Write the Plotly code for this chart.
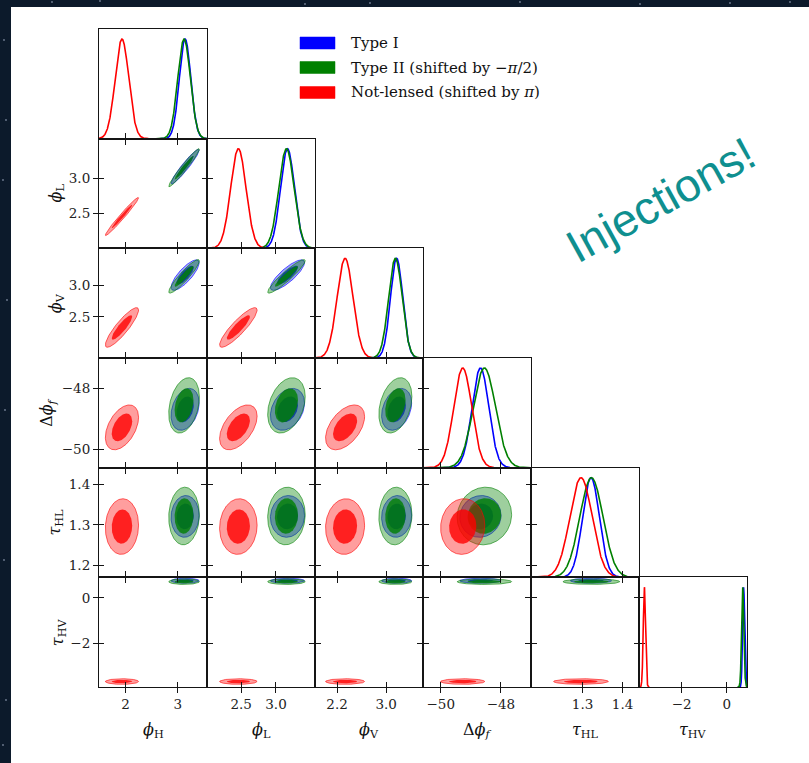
import numpy as np
import plotly.graph_objects as go

W, H = 809, 763

# ---- parameters of the corner plot -------------------------------------
param_titles = ["<i>ϕ</i><sub>H</sub>", "<i>ϕ</i><sub>L</sub>", "<i>ϕ</i><sub>V</sub>",
                "Δ<i>ϕ</i><sub><i>f</i></sub>", "<i>τ</i><sub>HL</sub>", "<i>τ</i><sub>HV</sub>"]
ranges = [[1.49, 3.56], [2.01, 3.56], [1.84, 3.60], [-50.59, -47.0], [1.171, 1.441], [-3.90, 0.90]]
x_tickvals = [[2, 3], [2.5, 3.0], [2.2, 3.0], [-50, -48], [1.3, 1.4], [-2, 0]]
x_ticktext = [["2", "3"], ["2.5", "3.0"], ["2.2", "3.0"], ["−50", "−48"], ["1.3", "1.4"], ["−2", "0"]]
y_tickvals = [[], [2.5, 3.0], [2.5, 3.0], [-50, -48], [1.2, 1.3, 1.4], [-2, 0]]
y_ticktext = [[], ["2.5", "3.0"], ["2.5", "3.0"], ["−50", "−48"], ["1.2", "1.3", "1.4"], ["−2", "0"]]

# ---- posterior summaries: means, widths, pairwise correlations ---------
type1_mean = [3.14, 3.165, 3.17, -48.68, 1.321, 0.75]
type1_std = [0.11, 0.10, 0.10, 0.28, 0.021, 0.045]
type1_corr = [[], [0.95], [0.80, 0.82], [0.30, 0.30, 0.30],
              [0.05, 0.05, 0.05, 0.05], [0.0, 0.0, 0.0, 0.0, 0.0]]

type2_mean = [3.12, 3.15, 3.15, -48.55, 1.322, 0.71]
type2_std = [0.12, 0.11, 0.11, 0.37, 0.029, 0.05]
type2_corr = [[], [0.97], [0.92, 0.93], [0.30, 0.32, 0.32],
              [0.05, 0.05, 0.05, 0.05], [0.0, 0.0, 0.0, 0.0, 0.0]]

nolens_mean = [1.93, 2.46, 2.33, -49.27, 1.296, -3.66]
nolens_std = [0.13, 0.11, 0.13, 0.30, 0.028, 0.05]
nolens_corr = [[], [0.98], [0.88, 0.88], [0.45, 0.50, 0.48],
               [0.05, 0.05, 0.05, 0.05], [0.0, 0.0, 0.0, 0.0, 0.0]]

series_labels = ["Type I", "Type II (shifted by −<i>π</i>/2)", "Not-lensed (shifted by <i>π</i>)"]
series_rgb = [(0, 0, 255), (0, 128, 0), (255, 0, 0)]
series = [
    (type1_mean, type1_std, type1_corr),
    (type2_mean, type2_std, type2_corr),
    (nolens_mean, nolens_std, nolens_corr),
]
credible_levels = [0.95, 0.68]  # outer, inner filled regions

# ---- page geometry (pixels) -------------------------------------------
col_edges = [99, 207, 315, 423, 531, 639, 747]
row_edges = [29, 138.7, 248.3, 358, 467.7, 577.3, 687]
ytitle_x = [None, 56, 56, 48, 55, 58]

INK = "#151515"
SERIF = "DejaVu Serif"
n = len(ranges)


def px(xp):
    return xp / W


def py(yp):
    return 1 - yp / H


def rgba(c, a):
    return f"rgba({c[0]},{c[1]},{c[2]},{a})"


fig = go.Figure()
layout = {}

# panel numbering
panel_id = {}
k = 0
for i in range(n):
    for j in range(i + 1):
        k += 1
        panel_id[(i, j)] = k
n_panels = k


def ax_names(idx):
    s = "" if idx == 1 else str(idx)
    return "xaxis" + s, "yaxis" + s, "x" + s, "y" + s


for (i, j), idx in panel_id.items():
    diag = i == j
    xa, ya, xr, yr = ax_names(idx)
    oxa, oya, oxr, oyr = ax_names(idx + n_panels)
    xdom = [px(col_edges[j]), px(col_edges[j + 1])]
    ydom = [py(row_edges[i + 1]), py(row_edges[i])]
    yrange = [0, 1.1] if diag else ranges[i]

    common = dict(showgrid=False, zeroline=False, fixedrange=True,
                  showline=True, linecolor=INK, linewidth=1.1,
                  tickcolor=INK, tickwidth=1.2, ticklen=5,
                  tickfont=dict(family=SERIF, size=13.5, color="#222"))
    layout[xa] = dict(common, domain=xdom, anchor=yr, range=ranges[j],
                      tickmode="array", tickvals=x_tickvals[j], ticktext=x_ticktext[j],
                      ticks="outside", mirror=True if diag else "allticks",
                      showticklabels=(i == n - 1))
    if diag:
        layout[ya] = dict(common, domain=ydom, anchor=xr, range=yrange,
                          ticks="", mirror=True, showticklabels=False)
    else:
        layout[ya] = dict(common, domain=ydom, anchor=xr, range=yrange,
                          tickmode="array", tickvals=y_tickvals[i], ticktext=y_ticktext[i],
                          ticks="outside", mirror="allticks", showticklabels=(j == 0))

    # companion axes carrying the inward half of each tick
    layout[oxa] = dict(common, domain=xdom, anchor=oyr, range=ranges[j],
                       tickmode="array", tickvals=x_tickvals[j],
                       ticks="inside", mirror=False if diag else "allticks",
                       showticklabels=False)
    if diag:
        layout[oya] = dict(common, domain=ydom, anchor=oxr, range=yrange,
                           ticks="", showline=False, showticklabels=False)
    else:
        layout[oya] = dict(common, domain=ydom, anchor=oxr, range=yrange,
                           tickmode="array", tickvals=y_tickvals[i],
                           ticks="inside", mirror="allticks", showticklabels=False)
    fig.add_trace(go.Scatter(x=[None], y=[None], xaxis=oxr, yaxis=oyr,
                             showlegend=False, hoverinfo="skip"))

# ---- 2D credible regions ------------------------------------------------
theta = np.linspace(0, 2 * np.pi, 241)


def region(mx, my, sx, sy, rho, p):
    r = np.sqrt(-2 * np.log(1 - p))
    x = mx + r * sx * np.cos(theta)
    y = my + r * sy * (rho * np.cos(theta) + np.sqrt(1 - rho ** 2) * np.sin(theta))
    return x, y


for i in range(n):
    for j in range(i):
        idx = panel_id[(i, j)]
        _, _, xr, yr = ax_names(idx)
        for (mean, std, corr), c in zip(series, series_rgb):
            rho = corr[i][j]
            for lev in credible_levels:
                x, y = region(mean[j], mean[i], std[j], std[i], rho, lev)
                outer = lev == credible_levels[0]
                fig.add_trace(go.Scatter(
                    x=x, y=y, xaxis=xr, yaxis=yr, mode="lines", fill="toself",
                    fillcolor=rgba(c, 0.38 if outer else 0.8),
                    line=dict(color=rgba(c, 0.6 if outer else 0.0), width=1 if outer else 0),
                    showlegend=False, hoverinfo="skip"))

# ---- 1D marginals (drawn over the support of each posterior) ------------
for j in range(n):
    idx = panel_id[(j, j)]
    _, _, xr, yr = ax_names(idx)
    for (mean, std, corr), c in zip(series, series_rgb):
        lo = max(ranges[j][0], mean[j] - 4.5 * std[j])
        hi = min(ranges[j][1], mean[j] + 4.5 * std[j])
        xs = np.linspace(lo, hi, 600)
        ys = np.exp(-0.5 * ((xs - mean[j]) / std[j]) ** 2)
        fig.add_trace(go.Scatter(x=xs, y=ys, xaxis=xr, yaxis=yr, mode="lines",
                                 line=dict(color=rgba(c, 1), width=1.6),
                                 showlegend=False, hoverinfo="skip"))

# ---- annotations: axis titles, legend, banner ----------------------------
annotations = []
for j in range(n):
    annotations.append(dict(text=param_titles[j], xref="paper", yref="paper",
                            x=px((col_edges[j] + col_edges[j + 1]) / 2), y=py(730),
                            xanchor="center", yanchor="middle", showarrow=False,
                            font=dict(family=SERIF, size=16, color="#111")))
for i in range(1, n):
    annotations.append(dict(text=param_titles[i], xref="paper", yref="paper",
                            x=px(ytitle_x[i]), y=py((row_edges[i] + row_edges[i + 1]) / 2),
                            xanchor="center", yanchor="middle", textangle=-90, showarrow=False,
                            font=dict(family=SERIF, size=16, color="#111")))

shapes = [dict(type="rect", xref="paper", yref="paper", x0=px(11), x1=1, y0=0, y1=py(7),
               fillcolor="white", line=dict(width=0), layer="below")]

# faint stars on the slide backdrop
star_xy = [(52, 2), (100, 1), (305, 4), (370, 3), (520, 2), (640, 4), (730, 3), (790, 2),
           (4, 40), (6, 120), (3, 180), (7, 300), (5, 410), (4, 560), (6, 700), (3, 745)]
for sx, sy in star_xy:
    shapes.append(dict(type="circle", xref="paper", yref="paper",
                       x0=px(sx - 0.9), x1=px(sx + 0.9), y0=py(sy + 0.9), y1=py(sy - 0.9),
                       fillcolor="rgba(200,212,235,0.55)", line=dict(width=0), layer="below"))

legend_rows = [43, 67.5, 92.5]
for lab, c, yc in zip(series_labels, series_rgb, legend_rows):
    shapes.append(dict(type="rect", xref="paper", yref="paper",
                       x0=px(300), x1=px(335), y0=py(yc + 6), y1=py(yc - 6),
                       fillcolor=rgba(c, 1), line=dict(color=rgba(c, 0.5), width=1)))
    annotations.append(dict(text=lab, xref="paper", yref="paper", x=px(349), y=py(yc),
                            xanchor="left", yanchor="middle", showarrow=False,
                            font=dict(family=SERIF, size=15, color="#111")))

annotations.append(dict(text="Injections!", xref="paper", yref="paper",
                        x=px(660), y=py(200), xanchor="center", yanchor="middle",
                        textangle=-29, showarrow=False,
                        font=dict(family="Liberation Sans", size=46, color="#0f8f8f")))

fig.update_layout(
    width=W, height=H, autosize=False,
    margin=dict(l=0, r=0, t=0, b=0, pad=0),
    paper_bgcolor="#0c1a2b", plot_bgcolor="rgba(0,0,0,0)",
    showlegend=False, shapes=shapes, annotations=annotations,
    **layout,
)

fig.write_html("out.html")
